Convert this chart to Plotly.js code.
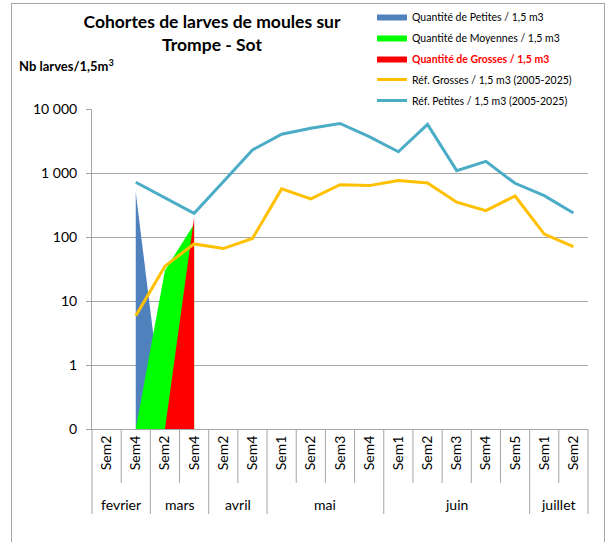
<!DOCTYPE html>
<html>
<head>
<meta charset="utf-8">
<script src="https://cdn.plot.ly/plotly-3.0.1.min.js"></script>
<style>
  html, body { margin: 0; padding: 0; background: #fff; }
  #wrap { position: relative; width: 612px; height: 542px; overflow: hidden; }
  #chart { position: absolute; left: 0; top: 0; width: 612px; height: 542px; }
  #frame { position: absolute; left: 11px; top: 3px; width: 592px; height: 560px;
           border: 1px solid #a6a6a6; pointer-events: none; }
</style>
</head>
<body>
<div id="wrap"><div id="chart"></div><div id="frame"></div></div>
<script>
// ---- Data ----
const months = ['fevrier','fevrier','mars','mars','avril','avril','mai','mai','mai','mai',
                'juin','juin','juin','juin','juin','juillet','juillet'];
const weeks  = ['Sem2','Sem4','Sem2','Sem4','Sem2','Sem4','Sem1','Sem2','Sem3','Sem4',
                'Sem1','Sem2','Sem3','Sem4','Sem5','Sem1','Sem2'];
const petites  = [null, 500, 0, null, null, null, null, null, null, null, null, null, null, null, null, null, null];
const moyennes = [null, 0, 30, 160, null, null, null, null, null, null, null, null, null, null, null, null, null];
const grosses  = [null, null, 0, 200, null, null, null, null, null, null, null, null, null, null, null, null, null];
const refGrosses = [null, 5.9, 35, 78, 66, 95, 565, 395, 655, 635, 765, 700, 350, 258, 437, 111, 71];
const refPetites = [null, 716, 410, 234, 730, 2290, 4030, 5000, 5950, 3700, 2150, 5750, 1090, 1520, 690, 442, 237];
const yTickVals = [0.1, 1, 10, 100, 1000, 10000];
const yTickText = ['0', '1', '10', '100', '1 000', '10 000'];

// On the log axis, a zero count sits on the "0" floor of the axis (0.1)
const LOG_FLOOR = 0.1;
const toLog = arr => arr.map(v => (v === null ? null : (v === 0 ? LOG_FLOOR : v)));
const idx = weeks.map((_, i) => i);
const N = weeks.length;

const FONT = 'Lato, "Open Sans", sans-serif';

const traces = [
  { x: idx, y: toLog(petites), name: 'Quantité de Petites / 1,5 m3', type: 'scatter', mode: 'lines',
    fill: 'tozeroy', fillcolor: '#4f81bd', line: { width: 0, color: '#4f81bd' }, legendgroup: 'a', hoverinfo: 'skip' },
  { x: idx, y: toLog(moyennes), name: 'Quantité de Moyennes / 1,5 m3', type: 'scatter', mode: 'lines',
    fill: 'tozeroy', fillcolor: '#00ff00', line: { width: 0, color: '#00ff00' }, legendgroup: 'b', hoverinfo: 'skip' },
  { x: idx, y: toLog(grosses), name: '<b><span style="color:#ff0000">Quantité de Grosses / 1,5 m3</span></b>', type: 'scatter', mode: 'lines',
    fill: 'tozeroy', fillcolor: '#ff0000', line: { width: 0, color: '#ff0000' }, legendgroup: 'c', hoverinfo: 'skip' },
  { x: idx, y: refGrosses, name: 'Réf. Grosses / 1,5 m3 (2005-2025)', type: 'scatter', mode: 'lines',
    line: { width: 3, color: '#ffc000' }, legendgroup: 'd', hoverinfo: 'skip' },
  { x: idx, y: refPetites, name: 'Réf. Petites / 1,5 m3 (2005-2025)', type: 'scatter', mode: 'lines',
    line: { width: 3, color: '#4bacc6' }, legendgroup: 'e', hoverinfo: 'skip' }
];

// Category boundary lines and month labels below the axis
const plotW = 612 - 92 - 24;
const plotH = 542 - 109 - 113;
const shapes = [];
const annotations = [];
for (let i = 0; i <= N; i++) {
  const isMonthEdge = (i === 0 || i === N || months[i] !== months[i - 1]);
  shapes.push({ type: 'line', xref: 'paper', yref: 'paper', x0: i / N, x1: i / N,
    y0: 0, y1: -(isMonthEdge ? 85 : 54) / plotH, line: { color: '#a6a6a6', width: 1 } });
}
let start = 0;
for (let i = 1; i <= N; i++) {
  if (i === N || months[i] !== months[start]) {
    annotations.push({ xref: 'x', yref: 'paper', x: (start + i - 1) / 2, y: -75 / plotH,
      text: months[start], showarrow: false, yanchor: 'middle', xanchor: 'center',
      font: { family: FONT, size: 14, color: '#000' } });
    start = i;
  }
}
annotations.push({ xref: 'paper', yref: 'paper', x: -75 / plotW, y: (429 - 65) / plotH,
  text: '<b>Nb larves/1,5m<sup>3</sup></b>', showarrow: false, xanchor: 'left', yanchor: 'middle',
  font: { family: FONT, size: 13, color: '#000' } });

const layout = {
  width: 612, height: 542,
  margin: { l: 92, r: 24, t: 109, b: 113, autoexpand: false },
  paper_bgcolor: '#fff', plot_bgcolor: '#fff',
  font: { family: FONT, color: '#000' },
  title: { text: '<b>Cohortes de larves de moules sur<br>Trompe - Sot</b>',
    xref: 'container', x: 212 / 612, xanchor: 'center',
    yref: 'container', y: 1 - 28 / 542, yanchor: 'top',
    font: { family: FONT, size: 17.5, color: '#000' } },
  showlegend: true,
  legend: { xref: 'paper', yref: 'paper', x: (372 - 92) / plotW, y: 1 + (109 - 2) / plotH,
    xanchor: 'left', yanchor: 'top',
    bgcolor: '#fff', font: { family: FONT, size: 10.5, color: '#000' },
    traceorder: 'grouped', tracegroupgap: 2, itemwidth: 30 },
  xaxis: { type: 'linear', range: [-0.5, N - 0.5], tickmode: 'array', tickvals: idx, ticktext: weeks,
    tickangle: -90, ticks: '', showgrid: false, zeroline: false, showline: true, linecolor: '#a6a6a6',
    tickfont: { family: FONT, size: 14, color: '#000' }, fixedrange: true },
  yaxis: { type: 'log', range: [-1, 4], tickmode: 'array', tickvals: yTickVals, ticktext: yTickText,
    ticks: 'outside', ticklen: 5, tickcolor: '#a6a6a6', showline: true, linecolor: '#a6a6a6',
    gridcolor: '#a6a6a6', gridwidth: 1, zeroline: false, ticklabelstandoff: 6,
    tickfont: { family: FONT, size: 14, color: '#000' }, fixedrange: true },
  shapes: shapes,
  annotations: annotations
};

Plotly.newPlot('chart', traces, layout, { displayModeBar: false, staticPlot: true });
</script>
</body>
</html>
